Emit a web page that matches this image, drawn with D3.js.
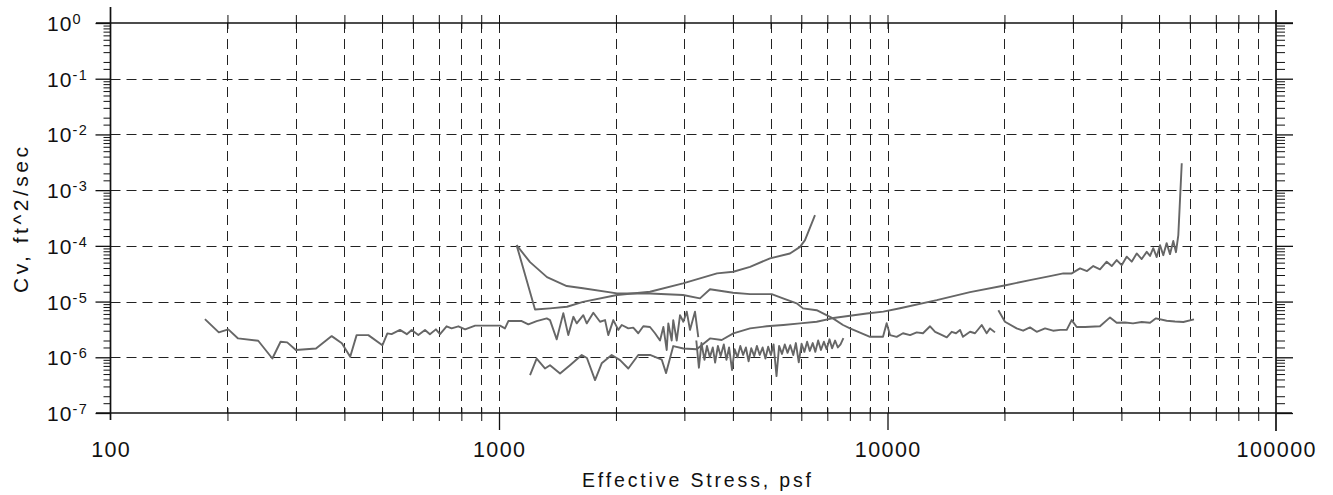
<!DOCTYPE html>
<html><head><meta charset="utf-8">
<script src="https://cdn.jsdelivr.net/npm/d3@7"></script>
<style>body{margin:0;background:#fff}svg{display:block}</style>
</head><body>
<svg id="c" width="1333" height="495"></svg>
<script>
// ---------- data ----------
const xMajor = [100, 1000, 10000, 100000];
const xTickLabels = ["100", "1000", "10000", "100000"];
const xMinorMult = [2, 3, 4, 5, 6, 7, 8, 9];
const yMajor = [1, 1e-1, 1e-2, 1e-3, 1e-4, 1e-5, 1e-6, 1e-7];
const yTickExp = ["0", "-1", "-2", "-3", "-4", "-5", "-6", "-7"];
const yMinorMult = [1.5, 2, 3, 4, 5, 6, 7, 8, 9];
const xTitle = "Effective Stress, psf";
const yTitle = "Cv, ft^2/sec";

// series 1: 175 - 3260 psf
const s1Stress = [175,190,201,213,240,261,274,285,300,338,371,394,414,430,461,501,516,529,556,579,596,620,645,664,688,705,733,755,786,818,868,1006,1036,1057,1144,1190,1250,1327,1353,1408,1464,1508,1554,1585,1648,1682,1749,1820,1875,1911,1969,2028,2070,2152,2216,2283,2352,2447,2521,2597,2649,2702,2728,2783,2809,2867,2924,2982,3043,3102,3195,3258];
const s1Cv = [4.85e-6,2.8e-6,3.17e-6,2.18e-6,1.98e-6,9.5e-7,1.9e-6,1.85e-6,1.35e-6,1.44e-6,2.4e-6,1.78e-6,1.02e-6,2.5e-6,2.5e-6,1.64e-6,2.69e-6,2.6e-6,3.1e-6,2.6e-6,3.1e-6,2.5e-6,3.1e-6,2.6e-6,3.17e-6,2.6e-6,3.6e-6,3.3e-6,3.6e-6,3.17e-6,3.7e-6,3.7e-6,3.3e-6,4.47e-6,4.47e-6,3.9e-6,4.47e-6,5.0e-6,4.65e-6,2.1e-6,6.2e-6,2.5e-6,5.33e-6,4.06e-6,5.7e-6,4.06e-6,6.3e-6,4.34e-6,4.65e-6,2.5e-6,4.65e-6,3.1e-6,3.8e-6,3.3e-6,3.4e-6,2.7e-6,3.6e-6,3.5e-6,2.7e-6,2.0e-6,3.5e-6,1.35e-6,4.06e-6,2.0e-6,4.65e-6,2.0e-6,5.7e-6,4.34e-6,6.6e-6,3.1e-6,6.6e-6,2.3e-6];

// series 2: 1200 - 57200 psf (low start, long rise, final spike)
const s2Stress = [1202,1250,1313,1353,1436,1523,1633,1684,1767,1838,1950,2049,2152,2283,2447,2623,2692,2809,2982,3228,3492,3743,4010,4428,4887,5394,5954,6571,7254,8007,8841,9757,10770,13390,16310,20000,23270,26200,28350,29800,31300,32630,33860,35230,36660,37770,38900,40060,41270,42520,43800,45110,46480,47400,48310,49300,50280,51270,52300,53350,54400,55280,56050,57200];
const s2Cv = [4.8e-7,9.5e-7,6.3e-7,7.2e-7,5.1e-7,7.2e-7,1.1e-6,9.7e-7,3.9e-7,7.8e-7,1.1e-6,8.9e-7,6.3e-7,1.1e-6,1.1e-6,9.1e-7,5.2e-7,1.59e-6,1.44e-6,1.39e-6,2.18e-6,2.04e-6,2.69e-6,3.3e-6,3.6e-6,3.8e-6,4.06e-6,4.34e-6,5.06e-6,5.56e-6,6.1e-6,6.6e-6,7.6e-6,1.06e-5,1.48e-5,1.94e-5,2.43e-5,2.87e-5,3.2e-5,3.2e-5,3.95e-5,3.53e-5,4.34e-5,3.8e-5,5.2e-5,4.34e-5,5.56e-5,4.5e-5,6.4e-5,5.2e-5,7.3e-5,5.8e-5,7.8e-5,6.6e-5,9.1e-5,6.3e-5,1.03e-4,6.8e-5,1.12e-4,7.1e-5,1.22e-4,7.7e-5,1.56e-4,3.03e-3];

// series 3: noisy band 3220 - 7700 psf
const s3Stress = [3220,3270,3320,3380,3430,3490,3550,3600,3660,3720,3790,3850,3910,3980,4040,4110,4180,4250,4320,4390,4460,4540,4610,4690,4770,4850,4930,5010,5090,5180,5260,5350,5440,5530,5620,5720,5810,5910,6010,6110,6210,6310,6420,6520,6630,6740,6860,6970,7090,7200,7330,7450,7570,7700];
const s3Cv = [2.0e-6,6.5e-7,1.8e-6,9e-7,1.6e-6,1.0e-6,1.5e-6,8e-7,1.6e-6,1.05e-6,1.7e-6,9e-7,1.5e-6,5.9e-7,1.4e-6,1.0e-6,1.6e-6,1.1e-6,1.5e-6,8.5e-7,1.45e-6,1.05e-6,1.6e-6,1.1e-6,1.5e-6,9.5e-7,1.55e-6,1.1e-6,1.7e-6,4.6e-7,1.6e-6,1.15e-6,1.7e-6,1.2e-6,1.65e-6,1.1e-6,1.8e-6,8.1e-7,1.75e-6,1.25e-6,1.9e-6,1.3e-6,1.8e-6,1.25e-6,2.0e-6,1.35e-6,1.9e-6,1.4e-6,2.1e-6,1.45e-6,2.0e-6,1.5e-6,1.7e-6,2.2e-6];

// series 4: 1110 - 6500 psf (drop then rise)
const s4Stress = [1110,1238,1353,1496,1645,2012,2447,2976,3640,4010,4428,4984,5610,5954,6133,6507];
const s4Cv = [1.03e-4,7.2e-6,7.55e-6,8.07e-6,9.9e-6,1.31e-5,1.5e-5,2.12e-5,3.2e-5,3.43e-5,4.2e-5,5.97e-5,7.3e-5,9.6e-5,1.27e-4,3.57e-4];

// series 5: 1110 - 18910 psf (gradual decline)
const s5Stress = [1110,1202,1329,1494,1645,2012,2447,2976,3291,3492,4003,4428,5034,5383,5838,6060,6571,7237,7681,8007,9016,9737,9950,10150,10560,10960,11430,11890,12340,12870,13260,13650,14210,14630,15010,15370,15640,16310,16800,17480,18000,18360,18910];
const s5Cv = [1.03e-4,5.1e-5,2.75e-5,1.9e-5,1.73e-5,1.4e-5,1.4e-5,1.31e-5,1.14e-5,1.66e-5,1.44e-5,1.36e-5,1.36e-5,1.14e-5,9.3e-6,7.55e-6,7.0e-6,5.0e-6,3.8e-6,3.3e-6,2.33e-6,2.33e-6,4.1e-6,2.5e-6,2.33e-6,2.7e-6,2.5e-6,2.8e-6,2.7e-6,3.6e-6,2.87e-6,2.6e-6,2.28e-6,2.87e-6,2.7e-6,3.1e-6,2.33e-6,2.87e-6,2.7e-6,3.8e-6,2.7e-6,3.3e-6,2.8e-6];

// series 6: 19290 - 61500 psf
const s6Stress = [19290,20060,21500,22340,23270,24210,25440,26670,27860,28930,29790,30690,32250,35230,37390,38900,40860,42850,45110,47400,49100,52300,54950,57740,61500];
const s6Cv = [7.0e-6,4.34e-6,3.3e-6,3.0e-6,3.44e-6,2.87e-6,3.3e-6,3.0e-6,3.1e-6,3.1e-6,4.65e-6,3.5e-6,3.5e-6,3.6e-6,5.2e-6,4.16e-6,4.2e-6,4.06e-6,4.3e-6,4.16e-6,5.0e-6,4.52e-6,4.38e-6,4.3e-6,4.8e-6];

const series = [
  [s1Stress, s1Cv], [s2Stress, s2Cv], [s3Stress, s3Cv],
  [s4Stress, s4Cv], [s5Stress, s5Cv], [s6Stress, s6Cv]
];

// ---------- drawing ----------
const FONT = "'Liberation Sans', Arial, Helvetica, sans-serif";
const L = 110.5, R = 1276, T = 23, B = 413;
const x = d3.scaleLog().domain([100, 100000]).range([L, R]);
const y = d3.scaleLog().domain([1e-7, 1]).range([B, T]);
const svg = d3.select("#c");

const xMinor = [];
xMajor.slice(0, -1).forEach(d => xMinorMult.forEach(m => xMinor.push(d * m)));
const yMinor = [];
yMajor.slice(1).forEach(d => yMinorMult.forEach(m => yMinor.push(d * m)));

// grid
const grid = svg.append("g").attr("stroke", "#222").attr("stroke-width", 1)
  .attr("stroke-dasharray", "10,6").attr("fill", "none");
grid.selectAll("line.v").data(xMinor.concat(xMajor.slice(1, -1))).join("line")
  .attr("x1", d => Math.round(x(d)) + 0.5).attr("x2", d => Math.round(x(d)) + 0.5)
  .attr("y1", T).attr("y2", B);
grid.selectAll("line.h").data(yMajor.slice(1, -1)).join("line")
  .attr("y1", d => Math.round(y(d)) + 0.5).attr("y2", d => Math.round(y(d)) + 0.5)
  .attr("x1", L).attr("x2", R);

function styleAxis(g, w) {
  g.select(".domain").remove();
  g.selectAll(".tick line").attr("stroke", "#111").attr("stroke-width", w);
  g.selectAll(".tick text").remove();
}
// y ticks
svg.append("g").attr("transform", `translate(${L},0)`)
  .call(d3.axisLeft(y).tickValues(yMajor).tickSize(15).tickFormat(""))
  .call(g => styleAxis(g, 1.3));
svg.append("g").attr("transform", `translate(${L},0)`)
  .call(d3.axisLeft(y).tickValues(yMinor).tickSize(7).tickFormat(""))
  .call(g => styleAxis(g, 1));
svg.append("g").attr("transform", `translate(${R},0)`)
  .call(d3.axisRight(y).tickValues(yMajor).tickSize(17).tickFormat(""))
  .call(g => styleAxis(g, 1.3));
svg.append("g").attr("transform", `translate(${R},0)`)
  .call(d3.axisRight(y).tickValues(yMinor).tickSize(9).tickFormat(""))
  .call(g => styleAxis(g, 1));
// x ticks
svg.append("g").attr("transform", `translate(0,${B})`)
  .call(d3.axisBottom(x).tickValues(xMinor).tickSize(8).tickFormat(""))
  .call(g => styleAxis(g, 1));
svg.append("g").attr("transform", `translate(0,${B})`)
  .call(d3.axisBottom(x).tickValues(xMinor).tickSize(-5).tickFormat(""))
  .call(g => styleAxis(g, 1));
svg.append("g").attr("transform", `translate(0,${B})`)
  .call(d3.axisBottom(x).tickValues(xMajor.slice(1, -1)).tickSize(17).tickFormat(""))
  .call(g => styleAxis(g, 1.3));
svg.append("g").attr("transform", `translate(0,${T})`)
  .call(d3.axisTop(x).tickValues(xMinor.concat(xMajor.slice(1, -1))).tickSize(8).tickFormat(""))
  .call(g => styleAxis(g, 1));
svg.append("g").attr("transform", `translate(0,${T})`)
  .call(d3.axisTop(x).tickValues(xMinor.concat(xMajor.slice(1, -1))).tickSize(-6).tickFormat(""))
  .call(g => styleAxis(g, 1));

// axis frame lines
const frame = svg.append("g").attr("stroke", "#111").attr("stroke-width", 1.7);
frame.append("line").attr("x1", L).attr("x2", L).attr("y1", 7).attr("y2", 420);
frame.append("line").attr("x1", R).attr("x2", R).attr("y1", 10).attr("y2", 431);
frame.append("line").attr("x1", 96).attr("x2", 1293).attr("y1", T).attr("y2", T);
frame.append("line").attr("x1", 96).attr("x2", 1292).attr("y1", B).attr("y2", B);

// data lines
const line = d3.line().x(d => x(d[0])).y(d => y(d[1]));
svg.append("g").selectAll("path").data(series).join("path")
  .attr("d", s => line(s[0].map((v, i) => [v, s[1][i]])))
  .attr("fill", "none").attr("stroke", "#666").attr("stroke-width", 1.9)
  .attr("stroke-linejoin", "round");

// y tick labels
const yl = svg.append("g").attr("font-family", FONT).attr("fill", "#111");
yl.selectAll("text.b").data(yMajor).join("text")
  .attr("x", 47).attr("y", d => y(d) + 8)
  .attr("font-size", 21).attr("textLength", 24.5).attr("lengthAdjust", "spacing").text("10");
yl.selectAll("text.e").data(yMajor).join("text")
  .attr("x", 72.5).attr("y", d => y(d) + 1)
  .attr("font-size", 14.5).attr("letter-spacing", "1.5px")
  .text((d, i) => yTickExp[i]);

// x tick labels
svg.append("g").attr("font-family", FONT).attr("fill", "#111")
  .selectAll("text").data(xMajor).join("text")
  .attr("x", d => x(d)).attr("y", 457).attr("text-anchor", "middle")
  .attr("font-size", 21.5)
  .attr("textLength", (d, i) => xTickLabels[i].length * 13.6 - 2.5)
  .attr("lengthAdjust", "spacing")
  .text((d, i) => xTickLabels[i]);

// titles
svg.append("text").attr("font-family", FONT).attr("fill", "#111")
  .attr("x", 696.5).attr("y", 487).attr("text-anchor", "middle")
  .attr("font-size", 19.5).attr("textLength", 229).attr("lengthAdjust", "spacing")
  .text(xTitle);
svg.append("text").attr("font-family", FONT).attr("fill", "#111")
  .attr("transform", "translate(28,220) rotate(-90)").attr("text-anchor", "middle")
  .attr("font-size", 21).attr("textLength", 146).attr("lengthAdjust", "spacing")
  .text(yTitle);
</script>
</body></html>
